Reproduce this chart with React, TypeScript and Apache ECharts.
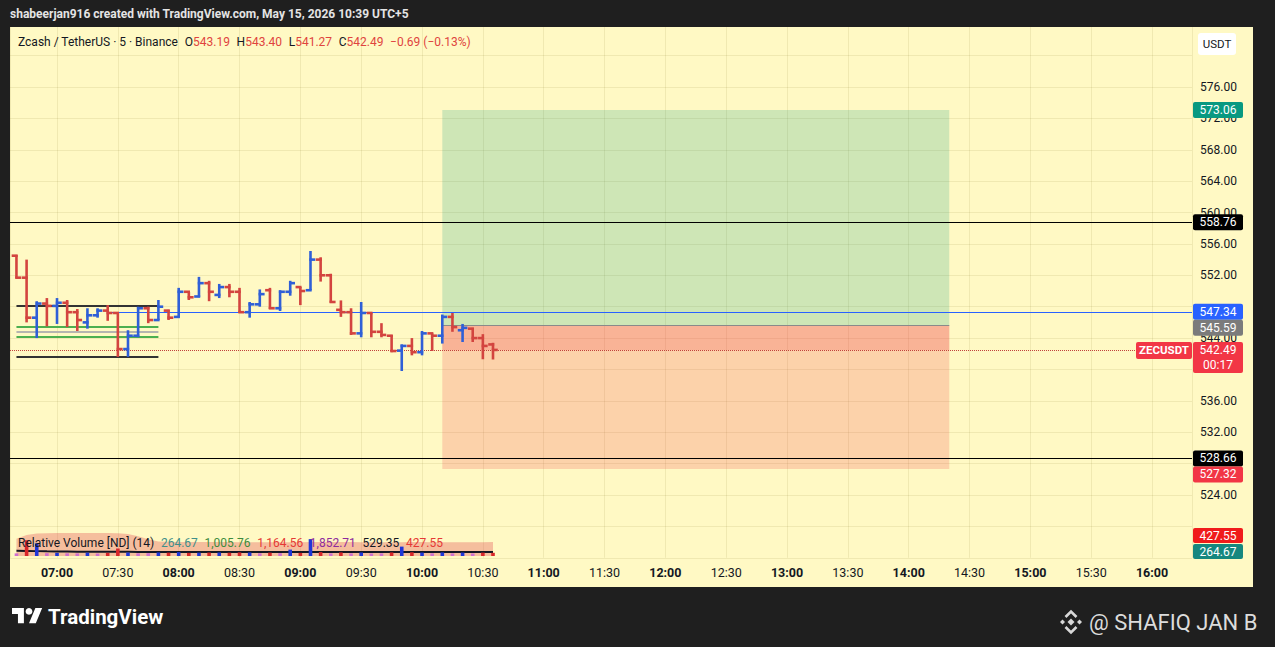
import React, { useEffect, useRef } from 'react';
import * as echarts from 'echarts';

// ---------- data ----------
const BAR_TIMES = ['06:40','06:45','06:50','06:55','07:00','07:05','07:10','07:15','07:20','07:25','07:30','07:35','07:40','07:45','07:50','07:55','08:00','08:05','08:10','08:15','08:20','08:25','08:30','08:35','08:40','08:45','08:50','08:55','09:00','09:05','09:10','09:15','09:20','09:25','09:30','09:35','09:40','09:45','09:50','09:55','10:00','10:05','10:10','10:15','10:20','10:25','10:30','10:35'];
const OPEN = [554.5,551.7,546.6,548.4,548.1,548.5,547.3,546.0,546.9,547.5,547.2,542.6,544.3,547.8,546.3,547.5,546.7,549.9,549.3,551.0,549.5,550.5,549.9,547.3,548.3,550.1,547.8,549.9,550.5,550.1,554.0,552.0,547.6,547.3,544.6,547.2,544.8,544.3,542.4,543.0,542.2,544.6,544.3,546.7,545.0,545.2,544.0,543.19];
const HIGH = [554.6,554.0,548.7,549.1,549.1,548.85,547.7,547.8,547.8,548.2,547.2,545.0,548.0,548.0,548.85,547.6,550.4,549.9,551.8,551.3,550.9,550.9,550.4,548.6,550.2,550.4,550.1,551.3,550.5,555.1,554.3,552.2,548.8,547.8,548.6,547.2,545.9,544.4,543.2,544.0,544.9,544.6,547.0,547.2,545.8,545.3,544.5,543.40];
const LOW = [551.6,546.0,544.0,545.5,545.8,545.4,544.9,545.2,546.6,546.2,541.6,541.6,544.1,545.9,546.3,546.3,546.6,548.85,549.2,548.7,549.1,549.2,547.2,546.6,548.0,547.7,547.45,549.4,548.2,550.1,551.2,548.5,546.7,544.4,544.1,544.1,544.1,542.2,539.8,541.8,541.8,542.35,543.3,544.8,543.5,543.5,541.3,541.27];
const CLOSE = [551.7,546.6,548.4,548.1,548.5,547.3,546.3,546.9,547.5,547.2,542.6,544.3,547.8,546.3,548.0,546.6,549.9,549.2,551.0,549.9,550.5,549.9,547.3,548.3,549.6,547.8,549.9,551.0,550.0,554.0,552.0,548.6,547.3,544.6,547.2,544.8,544.4,542.35,543.0,542.2,544.6,544.3,546.7,545.4,545.3,544.0,543.0,542.49];

const REL_VOL = [350,2100,1700,380,420,360,350,450,330,420,1000,480,360,380,480,450,520,420,450,460,470,440,480,470,360,450,380,850,420,2250,520,350,480,350,470,340,350,480,1250,500,460,360,480,350,460,340,450,427.55];
const BAND_UPPER = [2300,2800,3000,3050,3080,3080,3080,3080,3080,3060,3050,2950,2650,2250,1950,1900,1880,1870,1870,1860,1860,1860,1850,1850,1850,1850,1850,1850,1850,1870,1870,1860,1860,1860,1850,1850,1850,1850,1850,1860,1860,1850,1850,1850,1850,1850,1850,1852.71];
const VOL_LINE = [700,680,650,620,600,590,580,570,560,560,560,555,550,545,540,540,540,540,535,535,535,535,535,535,535,535,535,540,540,545,545,540,540,535,535,535,535,535,535,535,530,530,530,530,530,530,530,529.35];

const TARGET = 573.06;
const ENTRY = 545.59;
const STOP = 527.32;
const RESISTANCE = 558.76;
const SUPPORT = 528.66;
const BLUE_LEVEL = 547.34;
const LAST = 542.49;
const RANGE_TOP = 548.1;
const RANGE_GREEN_HI = 545.5;
const RANGE_MID = 544.8;
const RANGE_GREEN_LO = 544.15;
const RANGE_BOTTOM = 541.6;

const POS_START = '10:10';
const POS_END = '14:20';
const RANGE_START = '06:40';
const RANGE_END = '07:50';
const BLUE_START = '07:25';
const AXIS_MIN = '06:36:49';
const AXIS_MAX = '16:19:42';
const TIME_STEP = 30; // minutes between time labels

const Y_MIN = 516;
const Y_MAX = 584;
const Y_INTERVAL = 4;
const HIDDEN_PRICE_LABELS = [584, 580, 548, 540, 528, 520, 516];

// ---------- helpers ----------
const mins = (hm: string) => {
  const p = hm.split(':').map(Number);
  return p[0] * 60 + p[1] + (p[2] || 0) / 60;
};
const pad = (n: number) => (n < 10 ? '0' + n : '' + n);

const DARK = '#1f1f1f';
const BG = '#fff9c4';
const UP = '#2f5fd7';
const DOWN = '#d3443f';
const FONT = 'Roboto';
const GRID_COLOR = 'rgba(120,110,30,0.11)';

echarts.graphic.registerShape(
  'tvlogo',
  echarts.graphic.extendPath('M14 22H7V11H0V4h14v18zM28 22h-8l7.5-18h8L28 22z', {})
);

export default function App() {
  const ref = useRef<HTMLDivElement>(null);

  useEffect(() => {
    if (!ref.current) return;
    const chart = echarts.init(ref.current, null, { renderer: 'svg' });

    const ohlc = BAR_TIMES.map((s, i) => [mins(s), OPEN[i], HIGH[i], LOW[i], CLOSE[i]]);
    const xMin = mins(AXIS_MIN);
    const xMax = mins(AXIS_MAX);

    const hLine = (y: number, color: string, width: number, type: string = 'solid') => ({
      yAxis: y,
      lineStyle: { color, width, type },
    });
    const segLine = (x1: string, x2: number, y: number, color: string, width: number) => [
      { coord: [mins(x1), y], lineStyle: { color, width, type: 'solid' } },
      { coord: [x2, y] },
    ];

    const volColor = (i: number) =>
      REL_VOL[i] < 400 ? '#cf6fd0' : CLOSE[i] >= OPEN[i] ? '#1e35d8' : '#d8262a';

    const timeLabel = (v: number) => {
      const r = Math.round(v);
      if (Math.abs(v - r) > 1e-6 || r % TIME_STEP !== 0) return '';
      const s = pad(Math.floor(r / 60)) + ':' + pad(r % 60);
      return r % 60 === 0 ? '{b|' + s + '}' : s;
    };

    const timeAxisBase = {
      type: 'value',
      min: xMin,
      max: xMax,
      splitNumber: 19,
      minInterval: TIME_STEP,
      maxInterval: TIME_STEP,
    };

    const option: any = {
      animation: false,
      backgroundColor: BG,
      textStyle: { fontFamily: FONT },
      grid: [
        { left: 10, width: 1182, top: 24.23, height: 533.54 },
        { left: 10, width: 1182, top: 526, height: 30 },
      ],
      xAxis: [
        {
          ...timeAxisBase,
          gridIndex: 0,
          axisLine: { show: false },
          axisTick: { show: false },
          splitLine: { show: true, lineStyle: { color: GRID_COLOR, width: 1 } },
          axisLabel: {
            showMinLabel: false,
            showMaxLabel: false,
            margin: 8,
            color: '#131722',
            fontSize: 12.5,
            fontFamily: FONT,
            formatter: timeLabel,
            rich: { b: { fontWeight: 'bold', fontSize: 12.5, color: '#131722', fontFamily: FONT } },
          },
        },
        { ...timeAxisBase, gridIndex: 1, show: false },
      ],
      yAxis: [
        {
          type: 'value',
          gridIndex: 0,
          position: 'right',
          min: Y_MIN,
          max: Y_MAX,
          interval: Y_INTERVAL,
          axisLine: { show: false },
          axisTick: { show: false },
          splitLine: { show: true, lineStyle: { color: GRID_COLOR, width: 1 } },
          axisLabel: {
            margin: 8,
            color: '#131722',
            fontSize: 12,
            fontFamily: FONT,
            formatter: (v: number) => (HIDDEN_PRICE_LABELS.indexOf(v) >= 0 ? '' : v.toFixed(2)),
          },
        },
        { type: 'value', gridIndex: 1, min: 0, max: 4000, show: false },
      ],
      series: [
        {
          type: 'custom',
          name: 'ZECUSDT',
          xAxisIndex: 0,
          yAxisIndex: 0,
          z: 5,
          data: ohlc,
          encode: { x: 0, y: [1, 2, 3, 4] },
          renderItem: (params: any, api: any) => {
            const tv = api.value(0);
            const o = api.value(1), h = api.value(2), l = api.value(3), c = api.value(4);
            const x = api.coord([tv, o])[0];
            const yO = api.coord([tv, o])[1];
            const yH = api.coord([tv, h])[1];
            const yL = api.coord([tv, l])[1];
            const yC = api.coord([tv, c])[1];
            const style = { stroke: c >= o ? UP : DOWN, lineWidth: 2.6, lineCap: 'butt' };
            return {
              type: 'group',
              children: [
                { type: 'line', shape: { x1: x, y1: yH, x2: x, y2: yL }, style },
                { type: 'line', shape: { x1: x - 4.8, y1: yO, x2: x + 1.2, y2: yO }, style },
                { type: 'line', shape: { x1: x - 1.2, y1: yC, x2: x + 4.8, y2: yC }, style },
              ],
            };
          },
          markArea: {
            silent: true,
            data: [
              [
                { coord: [mins(POS_START), TARGET], itemStyle: { color: 'rgba(8,153,129,0.2)' } },
                { coord: [mins(POS_END), ENTRY] },
              ],
              [
                { coord: [mins(POS_START), ENTRY], itemStyle: { color: 'rgba(242,54,69,0.2)' } },
                { coord: [mins(POS_END), STOP] },
              ],
              [
                { coord: [mins(POS_START), ENTRY], itemStyle: { color: 'rgba(242,54,69,0.2)' } },
                { coord: [mins(POS_END), LAST] },
              ],
            ],
          },
          markLine: {
            silent: true,
            symbol: 'none',
            label: { show: false },
            data: [
              hLine(RESISTANCE, '#000000', 1),
              hLine(SUPPORT, '#000000', 1),
              hLine(LAST, '#c0403c', 1, 'dotted'),
              segLine(BLUE_START, xMax, BLUE_LEVEL, '#2962ff', 1),
              segLine(POS_START, mins(POS_END), ENTRY, '#8a8a8a', 1),
              segLine(RANGE_START, mins(RANGE_END), RANGE_TOP, '#333333', 2),
              segLine(RANGE_START, mins(RANGE_END), RANGE_GREEN_HI, '#4caf50', 2),
              segLine(RANGE_START, mins(RANGE_END), RANGE_MID, '#b5b5b0', 2),
              segLine(RANGE_START, mins(RANGE_END), RANGE_GREEN_LO, '#4caf50', 2),
              segLine(RANGE_START, mins(RANGE_END), RANGE_BOTTOM, '#333333', 2),
            ],
          },
        },
        {
          type: 'line',
          name: 'band',
          xAxisIndex: 1,
          yAxisIndex: 1,
          data: BAND_UPPER.map((v, i) => [mins(BAR_TIMES[i]), v]),
          symbol: 'none',
          lineStyle: { width: 0 },
          areaStyle: { color: 'rgba(225,80,85,0.5)' },
          z: 3,
        },
        {
          type: 'line',
          name: 'rvline',
          xAxisIndex: 1,
          yAxisIndex: 1,
          data: VOL_LINE.map((v, i) => [mins(BAR_TIMES[i]), v]),
          symbol: 'none',
          lineStyle: { width: 2, color: '#131722' },
          z: 4,
        },
        {
          type: 'bar',
          name: 'rv',
          xAxisIndex: 1,
          yAxisIndex: 1,
          barWidth: 3.6,
          data: REL_VOL.map((v, i) => ({ value: [mins(BAR_TIMES[i]), v], itemStyle: { color: volColor(i) } })),
          z: 5,
        },
      ],
    };

    chart.setOption(option);

    const py = (p: number) => chart.convertToPixel({ yAxisIndex: 0 }, p) as number;

    // price scale boxes, stacked so they do not overlap
    const boxDefs = [
      { p: TARGET, fill: '#089981', lines: [TARGET.toFixed(2)] },
      { p: RESISTANCE, fill: '#000000', lines: [RESISTANCE.toFixed(2)] },
      { p: BLUE_LEVEL, fill: '#2962ff', lines: [BLUE_LEVEL.toFixed(2)] },
      { p: ENTRY, fill: '#7b7b7b', lines: [ENTRY.toFixed(2)] },
      { p: LAST, fill: '#f23645', lines: [LAST.toFixed(2), '00:17'] },
      { p: SUPPORT, fill: '#000000', lines: [SUPPORT.toFixed(2)] },
      { p: STOP, fill: '#f23645', lines: [STOP.toFixed(2)] },
    ];
    const g: any[] = [];
    let prevBottom = -1;
    const Z = 100;
    boxDefs
      .map((b) => ({ ...b, y: py(b.p) }))
      .sort((a, b) => a.y - b.y)
      .forEach((b) => {
        let top = b.y - 8;
        if (top < prevBottom) top = prevBottom;
        const h = b.lines.length === 1 ? 16 : 31;
        prevBottom = top + h;
        g.push({ type: 'rect', z: Z + 10, shape: { x: 1193, y: top, width: 50, height: h, r: 2 }, style: { fill: b.fill } });
        b.lines.forEach((s, k) => {
          g.push({
            type: 'text', z: Z + 11, x: 1218, y: top + 8 + k * 15,
            style: { text: s, fill: '#ffffff', fontSize: 12, fontFamily: FONT, align: 'center', verticalAlign: 'middle' },
          });
        });
        if (b.p === LAST) {
          g.push({ type: 'rect', z: Z + 10, shape: { x: 1136, y: top, width: 56, height: 17, r: 2 }, style: { fill: '#f23645' } });
          g.push({
            type: 'text', z: Z + 11, x: 1164, y: top + 8.5,
            style: { text: 'ZECUSDT', fill: '#ffffff', fontSize: 11.5, fontWeight: 'bold', fontFamily: FONT, align: 'center', verticalAlign: 'middle' },
          });
        }
      });

    // frame
    const frame = [
      { x: 0, y: 0, width: 1275, height: 27 },
      { x: 0, y: 0, width: 10, height: 647 },
      { x: 1253, y: 0, width: 22, height: 647 },
      { x: 0, y: 587, width: 1275, height: 60 },
    ].map((s) => ({ type: 'rect', z: Z, shape: s, style: { fill: DARK } }));

    const texts: any[] = [
      {
        type: 'text', z: Z + 5, x: 10, y: 14,
        style: { text: 'shabeerjan916 created with TradingView.com, May 15, 2026 10:39 UTC+5', fill: '#e4e4e4', fontSize: 12, fontWeight: 'bold', fontFamily: FONT, verticalAlign: 'middle' },
      },
      {
        type: 'text', z: Z + 5, x: 18, y: 42,
        style: {
          text: '{n|Zcash / TetherUS · 5 · Binance}  {n|O}{v|543.19}  {n|H}{v|543.40}  {n|L}{v|541.27}  {n|C}{v|542.49}  {v|−0.69 (−0.13%)}',
          verticalAlign: 'middle',
          rich: {
            n: { fill: '#131722', fontSize: 12, fontFamily: FONT },
            v: { fill: '#e0443e', fontSize: 12, fontFamily: FONT },
          },
        },
      },
      { type: 'rect', z: Z + 5, shape: { x: 1198, y: 33, width: 38, height: 22, r: 3 }, style: { fill: '#ffffff' } },
      {
        type: 'text', z: Z + 6, x: 1217, y: 44,
        style: { text: 'USDT', fill: '#131722', fontSize: 11.5, fontFamily: FONT, align: 'center', verticalAlign: 'middle' },
      },
      {
        type: 'text', z: Z + 5, x: 18, y: 543,
        style: {
          text: '{n|Relative Volume [ND] (14)}  {a|264.67}  {g|1,005.76}  {r|1,164.56}  {p|1,852.71}  {k|529.35}  {r|427.55}',
          verticalAlign: 'middle',
          rich: {
            n: { fill: '#131722', fontSize: 12, fontFamily: FONT },
            a: { fill: '#3f8f8a', fontSize: 12, fontFamily: FONT },
            g: { fill: '#3d8b3d', fontSize: 12, fontFamily: FONT },
            r: { fill: '#e53935', fontSize: 12, fontFamily: FONT },
            p: { fill: '#8e2b9e', fontSize: 12, fontFamily: FONT },
            k: { fill: '#131722', fontSize: 12, fontFamily: FONT },
          },
        },
      },
      { type: 'rect', z: Z + 10, shape: { x: 1193, y: 528, width: 50, height: 15, r: 2 }, style: { fill: '#f01b1b' } },
      { type: 'text', z: Z + 11, x: 1218, y: 535.5, style: { text: '427.55', fill: '#fff', fontSize: 12, fontFamily: FONT, align: 'center', verticalAlign: 'middle' } },
      { type: 'rect', z: Z + 10, shape: { x: 1193, y: 544, width: 50, height: 15, r: 2 }, style: { fill: '#16877f' } },
      { type: 'text', z: Z + 11, x: 1218, y: 551.5, style: { text: '264.67', fill: '#fff', fontSize: 12, fontFamily: FONT, align: 'center', verticalAlign: 'middle' } },
      // bottom branding
      { type: 'tvlogo', z: Z + 5, x: 12, y: 604.6, scaleX: 0.85, scaleY: 0.85, style: { fill: '#ffffff' } },
      { type: 'circle', z: Z + 5, shape: { cx: 12 + 20 * 0.85, cy: 604.6 + 8 * 0.85, r: 4 * 0.85 }, style: { fill: '#ffffff' } },
      {
        type: 'text', z: Z + 5, x: 48, y: 617,
        style: { text: 'TradingView', fill: '#ffffff', fontSize: 20.5, fontWeight: 'bold', fontFamily: FONT, verticalAlign: 'middle' },
      },
      { type: 'polygon', z: Z + 5, shape: { points: [[1071, 618.5], [1074.5, 622], [1071, 625.5], [1067.5, 622]] }, style: { fill: '#d8d8d8' } },
      { type: 'polygon', z: Z + 5, shape: { points: [[1062.5, 619.5], [1065, 622], [1062.5, 624.5], [1060, 622]] }, style: { fill: '#d8d8d8' } },
      { type: 'polygon', z: Z + 5, shape: { points: [[1079.5, 619.5], [1082, 622], [1079.5, 624.5], [1077, 622]] }, style: { fill: '#d8d8d8' } },
      { type: 'polyline', z: Z + 5, shape: { points: [[1065.5, 617], [1071, 611.5], [1076.5, 617]] }, style: { stroke: '#d8d8d8', lineWidth: 2.6, fill: null } },
      { type: 'polyline', z: Z + 5, shape: { points: [[1065.5, 627], [1071, 632.5], [1076.5, 627]] }, style: { stroke: '#d8d8d8', lineWidth: 2.6, fill: null } },
      {
        type: 'text', z: Z + 5, x: 1089, y: 622,
        style: { text: '@ SHAFIQ JAN B', fill: '#dcdcdc', fontSize: 22, fontFamily: FONT, verticalAlign: 'middle' },
      },
    ];

    chart.setOption({ graphic: [...frame, ...texts, ...g] });

    return () => chart.dispose();
  }, []);

  return <div ref={ref} style={{ width: 1275, height: 647, position: 'absolute', left: 0, top: 0 }} />;
}
